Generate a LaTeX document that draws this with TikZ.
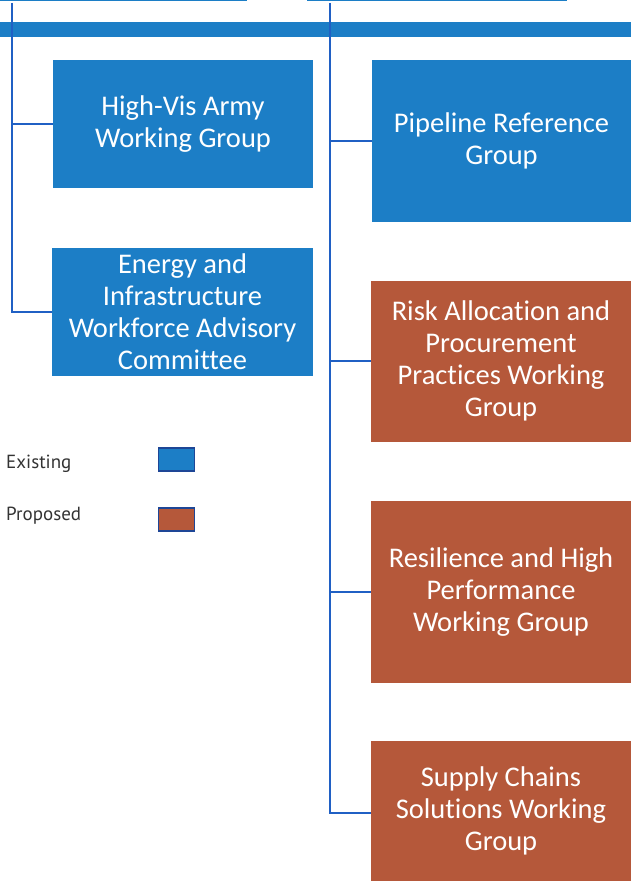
\documentclass[tikz,border=0pt]{standalone}
\usepackage{fontspec}
\setmainfont{Carlito}[Ligatures=NoCommon]
\newfontfamily\legendfont{PT Sans}

\definecolor{existing}{RGB}{28,126,198}
\definecolor{proposed}{RGB}{181,88,58}
\definecolor{linkblue}{RGB}{32,96,196}
\definecolor{keyedge}{RGB}{30,70,150}

\tikzset{
  unit/.style={rectangle, fill=existing, text=white, align=center, inner sep=0pt,
    font=\fontsize{28.5}{32}\selectfont},
  newunit/.style={unit, fill=proposed},
  link/.style={linkblue, line width=2pt},
  keybox/.style={rectangle, draw=keyedge, line width=1.2pt, minimum width=36pt, minimum height=23pt},
  keytext/.style={anchor=west, inner sep=0pt, font=\legendfont\fontsize{19}{22}\selectfont, text=black!80}
}

\begin{document}
\begin{tikzpicture}[x=1pt, y=-1pt]
            \useasboundingbox (0,0) rectangle (631,888);
            \clip (0,0) rectangle (631,888);

            % boxes above, cut off by the page edge
            \node[unit, minimum width=267pt, minimum height=40pt] (topl) at (113.5,-19) {};
            \node[unit, minimum width=260pt, minimum height=40pt] (topr) at (437,-19) {};

            % main bar
            \draw[existing, line width=15pt] (-5,29.5) -- (640,29.5);

            % left column
            \node[unit, minimum width=260pt, minimum height=128pt] (hv) at (183,124) {High-Vis Army\\Working Group};
            \node[unit, minimum width=261pt, minimum height=128pt] (en) at (182.5,312) {Energy and\\Infrastructure\\Workforce Advisory\\Committee};

            % right column
            \node[unit, minimum width=259pt, minimum height=162pt] (pl) at (501.5,141) {Pipeline Reference\\Group};
            \node[newunit, minimum width=260pt, minimum height=161pt] (ra) at (501,361) {Risk Allocation and\\Procurement\\Practices Working\\Group};
            \node[newunit, minimum width=260pt, minimum height=182pt] (rh) at (501,592) {Resilience and High\\Performance\\Working Group};
            \node[newunit, minimum width=260pt, minimum height=140pt] (sc) at (501,811) {Supply Chains\\Solutions Working\\Group};

            % trunks
            \coordinate (tl) at (12,3);
            \coordinate (tr) at (330,3);
            \draw[link] (tl) |- (en.west);
            \draw[link] (tl |- hv.west) -- (hv.west);
            \draw[link] (tr) |- ([yshift=-2pt]sc.west);
            \draw[link] (tr |- pl.west) -- (pl.west);
            \draw[link] (tr |- ra.west) -- (ra.west);
            \draw[link] (tr |- rh.west) -- (rh.west);

            % key
            \node[keytext] (kex) at (6,464) {Existing};
            \node[keytext] (kpr) at (6,516) {Proposed};
            \node[keybox, fill=existing] (kexbox) at (176.5,459.5) {};
            \node[keybox, fill=proposed] (kprbox) at (176.5,519.5) {};
        \end{tikzpicture}
\end{document}
